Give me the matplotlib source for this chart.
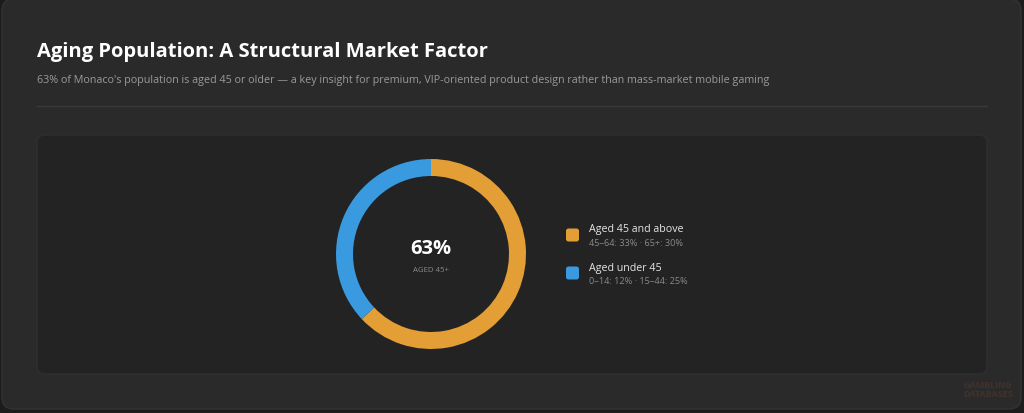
import matplotlib.pyplot as plt
from matplotlib.patches import FancyBboxPatch

plt.rcParams['font.family'] = ['Open Sans', 'DejaVu Sans']

labels = ['Aged 45 and above', 'Aged under 45']
shares = [63, 37]
details = ['45\u201364: 33% \u00b7 65+: 30%', '0\u201314: 12% \u00b7 15\u201344: 25%']
colors = ['#e39e35', '#3a9ae0']

title = 'Aging Population: A Structural Market Factor'
subtitle = ("63% of Monaco's population is aged 45 or older \u2014 a key insight for premium, "
            "VIP-oriented product design rather than mass-market mobile gaming")

W, H = 1024, 414
fig = plt.figure(figsize=(W / 100, H / 100), dpi=100, facecolor='#1c1c1c')
ax = fig.add_axes([0, 0, 1, 1])
ax.set_xlim(0, W)
ax.set_ylim(0, H)
ax.axis('off')

# card and inner panel
ax.add_patch(FancyBboxPatch((2, 4), W - 5, H - 4, boxstyle='round,pad=0,rounding_size=12',
                            fc='#2a2a2a', ec='#333333', lw=1))
ax.add_patch(FancyBboxPatch((37, H - 375), 950, 239, boxstyle='round,pad=0,rounding_size=8',
                            fc='#232323', ec='#2f2f2f', lw=1))

ax.text(37, H - 52, title, color='white', fontsize=14.5, fontweight='bold', va='center')
ax.text(37, H - 80, subtitle, color='#9a9a9a', fontsize=7.75, va='center')
ax.plot([37, 987], [H - 107, H - 107], color='#3a3a3a', lw=1)

# donut
cx, cy, r = 431, H - 255, 95
ax.pie(shares, colors=colors, startangle=90, counterclock=False, center=(cx, cy), radius=r,
       wedgeprops=dict(width=17, edgecolor='none'), frame=True)
ax.set_xlim(0, W)
ax.set_ylim(0, H)
ax.set_aspect('auto')
ax.axis('off')

ax.text(cx, cy + 6, f'{shares[0]}%', color='white', fontsize=14.5, fontweight='bold',
        ha='center', va='center')
ax.text(cx, cy - 16, 'AGED 45+', color='#8a8a8a', fontsize=5.6, ha='center', va='center')

# legend
for i, (lab, det, col) in enumerate(zip(labels, details, colors)):
    y = H - 236 - i * 38
    ax.add_patch(FancyBboxPatch((566, y - 6.5), 13, 13, boxstyle='round,pad=0,rounding_size=2.5',
                                fc=col, ec='none'))
    ax.text(589, y + 6, lab, color='#e6e6e6', fontsize=7.7, va='center')
    ax.text(589, y - 8, det, color='#8a8a8a', fontsize=6.6, va='center')

# faint watermark
ax.text(988, H - 390, 'GAMBLING\nDATABASES', color='#5a3a30', alpha=0.5, fontsize=6.5,
        fontweight='bold', ha='center', va='center', linespacing=0.9)

fig.savefig('out.png', dpi=100, facecolor=fig.get_facecolor())
